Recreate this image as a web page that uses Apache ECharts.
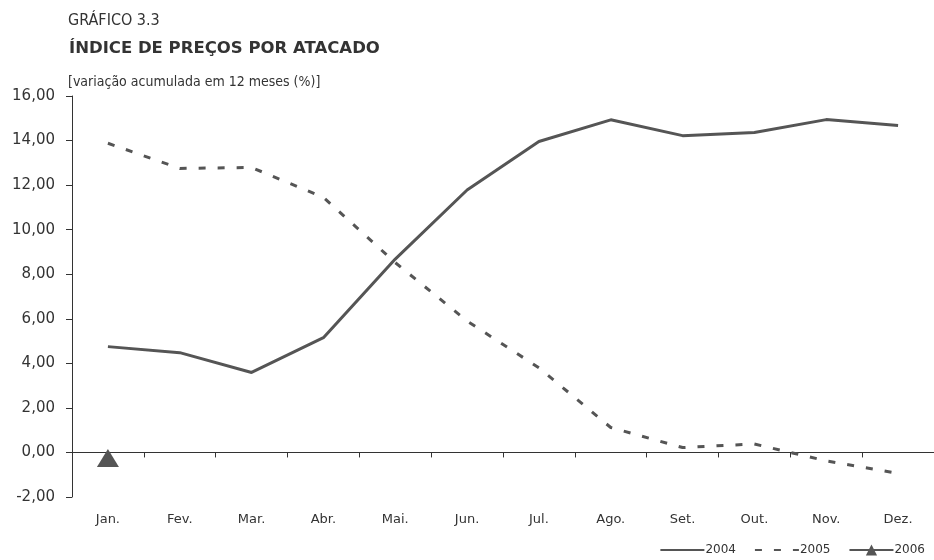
<!DOCTYPE html>
<html>
<head>
<meta charset="utf-8">
<script src="https://cdn.jsdelivr.net/npm/echarts@6/dist/echarts.min.js"></script>
<style>html,body{margin:0;padding:0;background:#fff}#c{width:934px;height:560px}</style>
</head>
<body>
<div id="c"></div>
<script>
const categories = ['Jan.','Fev.','Mar.','Abr.','Mai.','Jun.','Jul.','Ago.','Set.','Out.','Nov.','Dez.'];
const s2004 = [4.75, 4.48, 3.59, 5.15, 8.68, 11.78, 13.96, 14.93, 14.22, 14.36, 14.94, 14.68];
const s2005 = [13.88, 12.75, 12.79, 11.45, 8.52, 5.9, 3.8, 1.12, 0.22, 0.38, -0.38, -0.94];
const s2006 = [-0.25, null, null, null, null, null, null, null, null, null, null, null];
const yTicks = {min: -2, max: 16, interval: 2};

const chart = echarts.init(document.getElementById('c'));
const gray = '#555555';
const narrow = '"DejaVu Sans Condensed", "Liberation Sans", sans-serif';
chart.setOption({
  animation: false,
  backgroundColor: '#fff',
  title: [
    {text: 'GRÁFICO 3.3', left: 63, top: 8, textStyle: {fontFamily: narrow, fontSize: 16, fontWeight: 'normal', color: '#333'}},
    {text: 'ÍNDICE DE PREÇOS POR ATACADO', left: 64, top: 35, textStyle: {fontFamily: 'DejaVu Sans', fontSize: 16.5, fontWeight: 'bold', color: '#333'}},
    {text: '[variação acumulada em 12 meses (%)]', left: 63, top: 70, textStyle: {fontFamily: narrow, fontSize: 14, fontWeight: 'normal', color: '#333'}}
  ],
  legend: {
    right: 4, bottom: -1, itemGap: 18, itemWidth: 44, itemHeight: 14,
    textStyle: {fontFamily: 'DejaVu Sans', fontSize: 12, color: '#333', padding: [0,0,0,-4]},
    data: [
      {name: '2004', itemStyle: {opacity: 0}},
      {name: '2005', itemStyle: {opacity: 0}},
      {name: '2006'}
    ]
  },
  grid: {left: 72, right: 0, top: 96, bottom: 63, containLabel: false, outerBoundsMode: 'none'},
  xAxis: [
    {
      type: 'category', data: categories, boundaryGap: true,
      axisLine: {onZero: true, lineStyle: {color: '#333', width: 1}},
      axisTick: {show: true, length: 5, lineStyle: {color: '#333'}},
      axisLabel: {show: false}
    },
    {
      type: 'category', data: categories, boundaryGap: true, position: 'bottom',
      axisLine: {show: false, onZero: false},
      axisTick: {show: false},
      axisLabel: {margin: 16, fontFamily: 'DejaVu Sans', fontSize: 13, color: '#333'}
    }
  ],
  yAxis: {
    type: 'value', min: yTicks.min, max: yTicks.max, interval: yTicks.interval,
    axisLine: {show: true, lineStyle: {color: '#333', width: 1}},
    axisTick: {show: true, length: 6, lineStyle: {color: '#333'}},
    splitLine: {show: false},
    axisLabel: {margin: 17, fontFamily: 'DejaVu Sans', fontSize: 15, color: '#333',
      formatter: v => v.toFixed(2).replace('.', ',')}
  },
  series: [
    {name: '2004', type: 'line', data: s2004, symbol: 'none', color: gray,
      lineStyle: {color: gray, width: 3}},
    {name: '2005', type: 'line', data: s2005, symbol: 'none', color: gray,
      lineStyle: {color: gray, width: 3, type: [7, 12]}},
    {name: '2006', type: 'line', data: s2006, symbol: 'triangle', symbolSize: [22, 18], color: gray,
      itemStyle: {color: gray}, lineStyle: {color: gray, width: 1}}
  ]
});
</script>
</body>
</html>
